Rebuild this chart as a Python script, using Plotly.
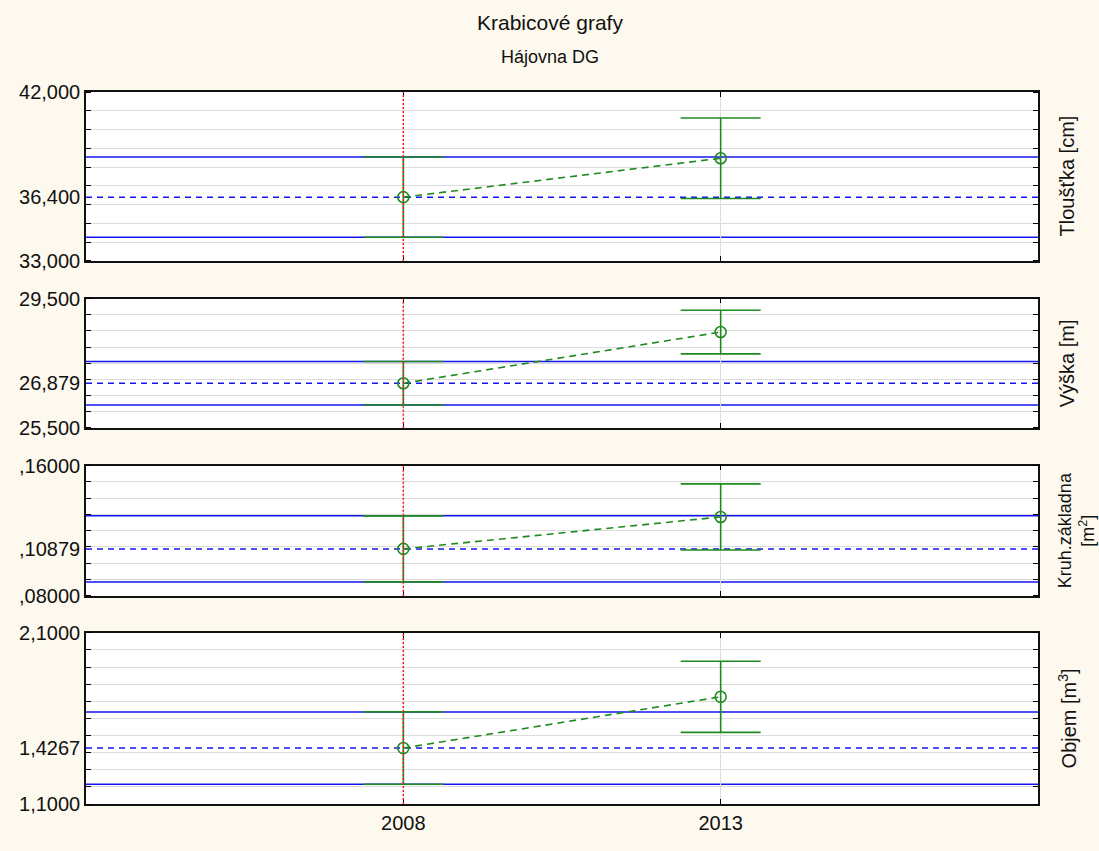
import plotly.graph_objects as go

# Years on the shared horizontal axis
years = ["2008", "2013"]

# Variables shown in the four stacked panels
panel_labels = [
    "Tloušťka [cm]",
    "Výška [m]",
    "Kruh.základna<br>[m<sup>2</sup>]",
    "Objem [m<sup>3</sup>]",
]

# Means and standard deviations per year
means_tloustka = [36.4, 38.47]
sds_tloustka = [2.14, 2.145]
means_vyska = [26.879, 28.465]
sds_vyska = [0.673, 0.675]
means_kruh = [0.10879, 0.1284]
sds_kruh = [0.0203, 0.0203]
means_objem = [1.4267, 1.726]
sds_objem = [0.211, 0.208]

means = [means_tloustka, means_vyska, means_kruh, means_objem]
sds = [sds_tloustka, sds_vyska, sds_kruh, sds_objem]

# Axis ranges, grid spacing and labelled ticks
y_ranges = [[33, 42], [25.5, 29.5], [0.08, 0.16], [1.1, 2.1]]
grid_steps = [1, 0.5, 0.01, 0.1]
tick_text = [
    ["33,000", "36,400", "42,000"],
    ["25,500", "26,879", "29,500"],
    [",08000", ",10879", ",16000"],
    ["1,1000", "1,4267", "2,1000"],
]

# Vertical placement of each panel (paper fraction)
domains = [[0.7627, 1.0], [0.5284, 0.7098], [0.2925, 0.4754], [0.0, 0.2405]]

GREEN = "#1f8a1f"
BLUE = "#1414f0"
FONT = "Liberation Sans, Arial, sans-serif"

fig = go.Figure()
shapes = []
annotations = []

for i in range(4):
    n = i + 1
    xa = "x" if n == 1 else f"x{n}"
    ya = "y" if n == 1 else f"y{n}"
    m = means[i]
    s = sds[i]

    fig.add_trace(go.Scatter(
        x=years, y=m, xaxis=xa, yaxis=ya,
        mode="lines+markers",
        line=dict(color=GREEN, width=1.6, dash="7px,5px"),
        marker=dict(symbol="circle-open", size=11, color=GREEN,
                    line=dict(width=1.6, color=GREEN)),
        error_y=dict(type="data", array=s, visible=True, color=GREEN,
                     thickness=1.6, width=40),
        showlegend=False, hoverinfo="skip",
    ))

    # Reference lines from the first year: mean and mean ± SD
    ref_mean = m[0]
    for yv, dash in [(ref_mean + s[0], "solid"), (ref_mean, "6px,5px"),
                     (ref_mean - s[0], "solid")]:
        shapes.append(dict(
            type="line", xref=f"{xa} domain", yref=ya,
            x0=0, x1=1, y0=yv, y1=yv, layer="below",
            line=dict(color=BLUE, width=1.5, dash=dash),
        ))

    # Dotted marker at the first year
    shapes.append(dict(
        type="line", xref=f"{xa} domain", yref=f"{ya} domain",
        x0=1 / 3, x1=1 / 3, y0=0, y1=1, layer="above",
        line=dict(color="#ff1a1a", width=1.5, dash="2px,2px"),
    ))

    lo, hi = y_ranges[i]
    xkey = "xaxis" if n == 1 else f"xaxis{n}"
    ykey = "yaxis" if n == 1 else f"yaxis{n}"

    fig.layout[xkey] = dict(
        type="category", range=[-1, 2], anchor=ya,
        domain=[0, 1],
        showgrid=True, gridcolor="#dcdcdc", gridwidth=1,
        ticks="inside", ticklen=5, tickcolor="black", tickwidth=1.2,
        showline=True, linecolor="#111", linewidth=1.6, mirror="ticks",
        showticklabels=(n == 4), zeroline=False,
        tickfont=dict(family=FONT, size=20, color="#111"),
    )
    fig.layout[ykey] = dict(
        domain=domains[i], range=[lo, hi], anchor=xa,
        tickmode="array", tickvals=[lo, ref_mean, hi], ticktext=tick_text[i],
        ticks="", showgrid=False, zeroline=False,
        showline=True, linecolor="#111", linewidth=1.6, mirror="ticks",
        tickfont=dict(family=FONT, size=20, color="#111"),
        minor=dict(tickmode="linear", tick0=lo, dtick=grid_steps[i],
                   ticks="inside", ticklen=5, tickcolor="black", tickwidth=1.2,
                   showgrid=True, gridcolor="#dcdcdc", gridwidth=1),
    )

    # Variable name on the right side of the panel
    two_line = "<br>" in panel_labels[i]
    annotations.append(dict(
        text=panel_labels[i], xref="paper", yref="paper",
        x=1.0405 if two_line else 1.0305,
        y=(domains[i][0] + domains[i][1]) / 2,
        xanchor="center", yanchor="middle", textangle=-90,
        showarrow=False,
        font=dict(family=FONT, size=18 if two_line else 20, color="#111"),
    ))

annotations.append(dict(
    text="Krabicové grafy", xref="paper", yref="paper",
    x=0.487, y=1.098, xanchor="center", yanchor="middle",
    showarrow=False, font=dict(family=FONT, size=21, color="#111"),
))
annotations.append(dict(
    text="Hájovna DG", xref="paper", yref="paper",
    x=0.487, y=1.049, xanchor="center", yanchor="middle",
    showarrow=False, font=dict(family=FONT, size=18, color="#111"),
))

fig.update_layout(
    width=1099, height=851,
    margin=dict(l=86, r=61, t=92, b=47),
    paper_bgcolor="#fdf9ee", plot_bgcolor="white",
    shapes=shapes, annotations=annotations,
    font=dict(family=FONT, color="#111"),
)

fig.write_html("out.html")
